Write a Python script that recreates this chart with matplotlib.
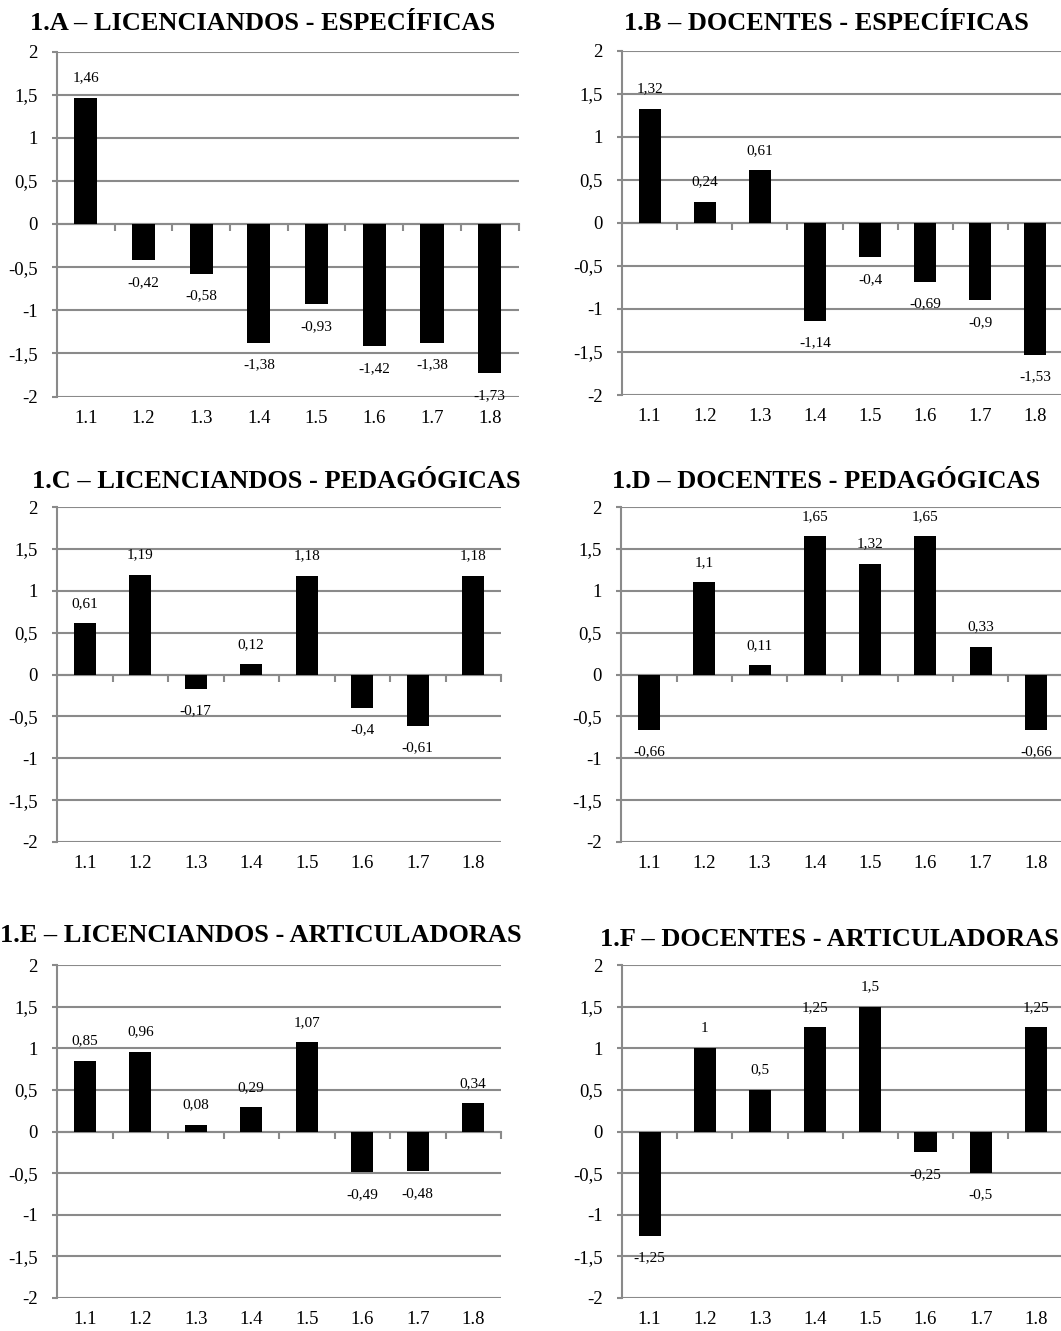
import matplotlib
matplotlib.use('Agg')
import matplotlib.pyplot as plt
import numpy as np

# ---------------- data ----------------
categories = ['1.1', '1.2', '1.3', '1.4', '1.5', '1.6', '1.7', '1.8']

lic_especificas = [1.46, -0.42, -0.58, -1.38, -0.93, -1.42, -1.38, -1.73]
doc_especificas = [1.32, 0.24, 0.61, -1.14, -0.40, -0.69, -0.90, -1.53]
lic_pedagogicas = [0.61, 1.19, -0.17, 0.12, 1.18, -0.40, -0.61, 1.18]
doc_pedagogicas = [-0.66, 1.10, 0.11, 1.65, 1.32, 1.65, 0.33, -0.66]
lic_articuladoras = [0.85, 0.96, 0.08, 0.29, 1.07, -0.49, -0.48, 0.34]
doc_articuladoras = [-1.25, 1.00, 0.50, 1.25, 1.50, -0.25, -0.50, 1.25]

titles = ['1.A – LICENCIANDOS - ESPECÍFICAS',
          '1.B – DOCENTES - ESPECÍFICAS',
          '1.C – LICENCIANDOS - PEDAGÓGICAS',
          '1.D – DOCENTES - PEDAGÓGICAS',
          '1.E – LICENCIANDOS - ARTICULADORAS',
          '1.F – DOCENTES - ARTICULADORAS']

y_ticks = [-2, -1.5, -1, -0.5, 0, 0.5, 1, 1.5, 2]
y_tick_labels = ['-2', '-1,5', '-1', '-0,5', '0', '0,5', '1', '1,5', '2']

# ---------------- layout ----------------
W, H = 1061, 1331
plt.rcParams['font.family'] = ['Liberation Serif', 'DejaVu Serif']
fig = plt.figure(figsize=(W / 100, H / 100), dpi=100)
fig.patch.set_facecolor('white')

GRID = '#8a8a8a'

# (left, right, top, bottom) in pixels, title center (x, y)
boxes = [
    ((57, 518.5, 51.5, 396.5), (263, 23)),
    ((622, 1063, 50.5, 395), (826, 24)),
    ((57, 501, 507, 842), (276, 481)),
    ((621.5, 1063.5, 507, 842), (826, 481)),
    ((57, 501, 965, 1298), (261, 936)),
    ((622, 1063.5, 965, 1298), (829, 940)),
]
series = [lic_especificas, doc_especificas, lic_pedagogicas,
          doc_pedagogicas, lic_articuladoras, doc_articuladoras]


def fmt(v):
    return f'{v:g}'.replace('.', ',')


def panel(box, values, title, tcenter):
    l, r, t, b = box
    ax = fig.add_axes([l / W, 1 - b / H, (r - l) / W, (b - t) / H])
    x = np.arange(len(categories))
    ax.bar(x, values, width=0.4, color='black', zorder=3)
    ax.set_xlim(-0.5, len(categories) - 0.5)
    ax.set_ylim(-2, 2)
    ax.set_yticks(y_ticks)
    ax.set_yticklabels(y_tick_labels)
    ax.yaxis.grid(True, color=GRID, lw=1.5, zorder=0)
    ax.set_axisbelow(True)
    for s in ['top', 'right', 'bottom']:
        ax.spines[s].set_visible(False)
    ax.spines['left'].set_color(GRID)
    ax.spines['left'].set_linewidth(1.5)
    ax.tick_params(axis='y', length=3.6, width=1.5, color=GRID, pad=10.5,
                   labelsize=13.5, labelcolor='black')
    ax.set_xticks(x)
    ax.set_xticklabels(categories)
    ax.tick_params(axis='x', length=0, pad=9.5, labelsize=13.5, labelcolor='black')

    # zero line with category-boundary ticks
    sec = ax.secondary_xaxis(0, transform=ax.transData)
    for s in sec.spines.values():
        s.set_color(GRID)
        s.set_linewidth(1.5)
    sec.set_xticks(np.arange(len(categories)) + 0.5)
    sec.set_xticklabels([])
    sec.tick_params(axis='x', direction='out', length=5, width=1.5, color=GRID)

    for xi, v in zip(x, values):
        off = 20 if v >= 0 else -22
        ax.annotate(fmt(v), (xi, v), xytext=(0, off), textcoords='offset pixels',
                    ha='center', va='center', fontsize=11, color='black', zorder=5)

    fig.text(tcenter[0] / W, 1 - tcenter[1] / H, title, ha='center', va='center',
             fontsize=19, fontweight='bold', color='black')


for (box, tc), vals, ttl in zip(boxes, series, titles):
    panel(box, vals, ttl, tc)

fig.savefig('out.png', dpi=100, facecolor='white')
